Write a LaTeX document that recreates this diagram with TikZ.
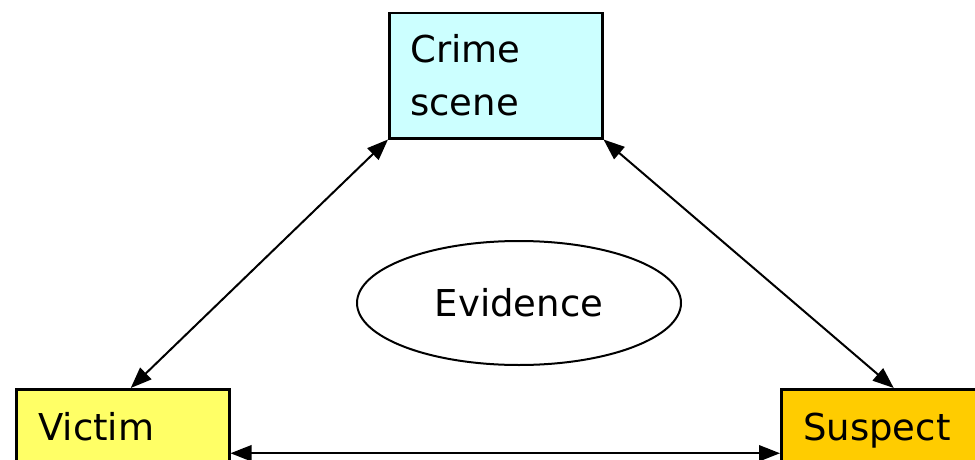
\documentclass[tikz,border=0pt]{standalone}
\usepackage{fontspec}
\setmainfont{DejaVu Sans}
\usetikzlibrary{arrows.meta,shapes.geometric}
\definecolor{scenefill}{HTML}{CCFFFF}
\definecolor{victimfill}{HTML}{FFFF66}
\definecolor{suspectfill}{HTML}{FFCC00}
\begin{document}
\begin{tikzpicture}[x=1pt,y=1pt,
    box/.style={draw,line width=2.5pt,minimum width=213pt,anchor=north west,inner sep=0pt},
    label/.style={font=\fontsize{37}{52}\selectfont,anchor=base west,inner sep=0pt},
    link/.style={{Triangle[length=21pt,width=16pt]}-{Triangle[length=21pt,width=16pt]},line width=2pt}]
  \useasboundingbox (0,0) rectangle (975,-460);
  \clip (0,0) rectangle (975,-460);
  % the three parties
  \node[box,fill=scenefill,minimum height=125pt] (crime) at (388,-12) {};
  \node[label] (crimetext) at (410,-63) {Crime};
  \node[label] (scenetext) at (410,-115) {scene};
  \node[box,fill=victimfill,minimum height=128pt] (victim) at (15,-388) {};
  \node[label] (victimtext) at (38,-440) {Victim};
  \node[box,fill=suspectfill,minimum height=128pt] (suspect) at (780,-388) {};
  \node[label] (suspecttext) at (803,-440) {Suspect};
  % evidence in the middle
  \node[draw,line width=2pt,ellipse,minimum width=324pt,minimum height=124pt,
    font=\fontsize{37}{44}\selectfont] (evidence) at (519,-303) {Evidence};
  \draw[link] (crime.south west) -- ([xshift=8pt]victim.north);
  \draw[link] (crime.south east) -- ([xshift=6pt]suspect.north);
  \draw[link] (victim.east) -- (suspect.west);
\end{tikzpicture}
\end{document}
